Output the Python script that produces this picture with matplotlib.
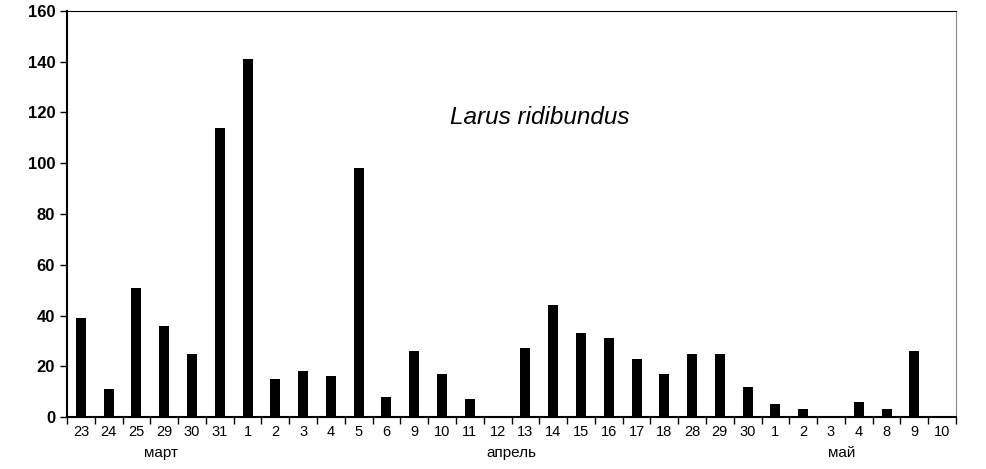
import numpy as np
import matplotlib.pyplot as plt

# данные
days = ['23', '24', '25', '29', '30', '31',
        '1', '2', '3', '4', '5', '6', '9', '10', '11', '12', '13', '14', '15',
        '16', '17', '18', '28', '29', '30',
        '1', '2', '3', '4', '8', '9', '10']
counts = [39, 11, 51, 36, 25, 114,
          141, 15, 18, 16, 98, 8, 26, 17, 7, 0, 27, 44, 33,
          31, 23, 17, 25, 25, 12,
          5, 3, 0, 6, 3, 26, 0]
months = ['март', 'апрель', 'май']
month_pos = [2.9, 15.5, 27.4]

plt.rcParams['font.family'] = ['Liberation Sans', 'DejaVu Sans']

fig = plt.figure(figsize=(9.86, 4.69), dpi=100)
ax = fig.add_axes([67/986, 52/469, 889/986, 406/469])

x = np.arange(len(days))
ax.bar(x, counts, width=0.36, color='black')

ax.set_xlim(-0.5, len(days) - 0.5)
ax.set_ylim(0, 160)
ax.set_yticks(np.arange(0, 161, 20))
ax.tick_params(axis='y', labelsize=12, length=5, width=1, direction='out')
for lab in ax.get_yticklabels():
    lab.set_fontweight('bold')

ax.set_xticks(x)
ax.set_xticklabels(days, fontsize=10.5)
ax.tick_params(axis='x', which='major', length=0, pad=6)
ax.set_xticks(np.arange(-0.5, len(days), 1), minor=True)
ax.tick_params(axis='x', which='minor', length=5, width=1, direction='out')

for m, p in zip(months, month_pos):
    ax.text(p, -14, m, ha='center', va='center', fontsize=11, clip_on=False)

ax.spines['left'].set_linewidth(1.5)
ax.spines['bottom'].set_linewidth(1.5)
ax.spines['top'].set_linewidth(0.8)
ax.spines['right'].set_color('#888888')
ax.spines['right'].set_linewidth(0.8)

ax.text(16.5, 118, 'Larus ridibundus', style='italic', fontsize=17.5, ha='center', va='center')

fig.savefig('out.png', dpi=100)
